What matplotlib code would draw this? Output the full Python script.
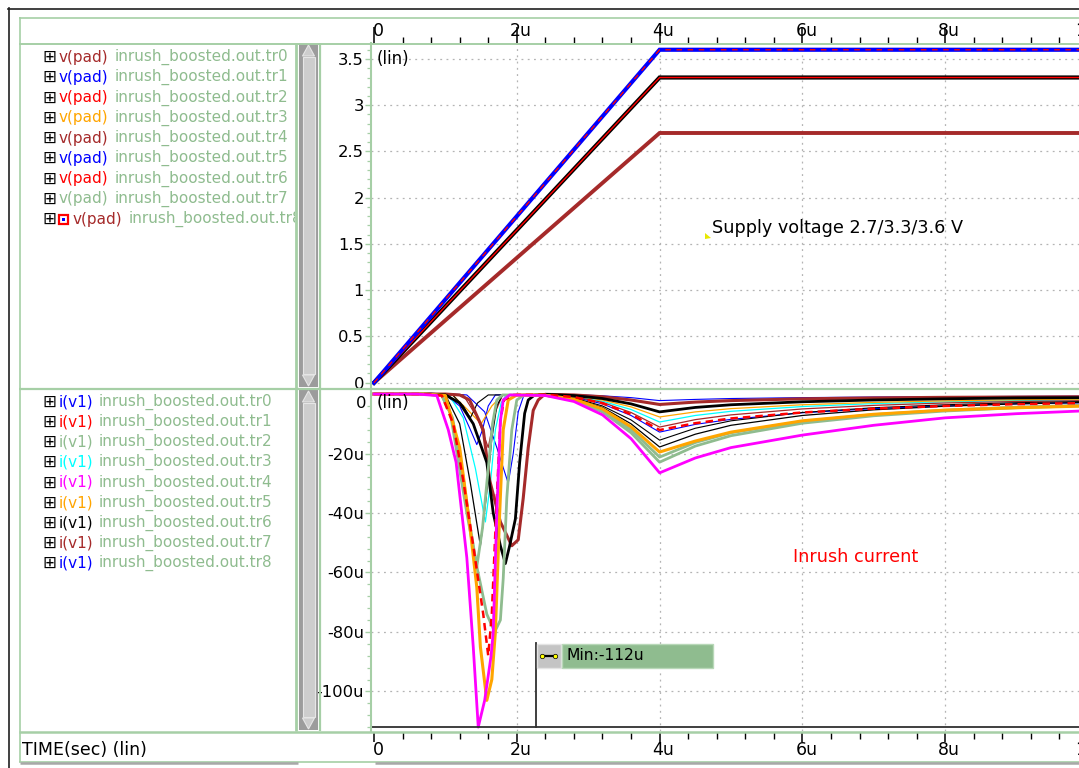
import matplotlib
matplotlib.use("Agg")
import matplotlib.pyplot as plt
from matplotlib.patches import Polygon, Rectangle

W, H = 1079, 768
BROWN = "#a52a2a"
BLUE = "#0000ff"
RED = "#ff0000"
ORANGE = "#ffa500"
GREEN = "#8fbc8f"
CYAN = "#00ffff"
MAGENTA = "#ff00ff"
FRAME = "#a6cfa6"
GRID = "#b4b4b4"
FONT = "DejaVu Sans"

# ---- legend entries ----
TRACE_NAMES = ["inrush_boosted.out.tr0", "inrush_boosted.out.tr1", "inrush_boosted.out.tr2",
               "inrush_boosted.out.tr3", "inrush_boosted.out.tr4", "inrush_boosted.out.tr5",
               "inrush_boosted.out.tr6", "inrush_boosted.out.tr7", "inrush_boosted.out.tr8"]
V_COLORS = [BROWN, BLUE, RED, ORANGE, BROWN, BLUE, RED, GREEN, BROWN]
I_COLORS = [BLUE, RED, GREEN, CYAN, MAGENTA, ORANGE, "black", BROWN, BLUE]

# ---- v(pad): ramp to supply in 4us, then flat (time in us, volts) ----
V_T = [0.0, 4.0, 10.0]
V_27 = [0.0, 2.7, 2.7]
V_33 = [0.0, 3.3, 3.3]
V_36 = [0.0, 3.6, 3.6]

# ---- i(v1): first dip around 1-2.3us (time in us, current in uA) ----
MAG_T = [0.0, 0.6, 0.88, 1.04, 1.15, 1.30, 1.39, 1.46, 1.55, 1.64, 1.67, 1.72, 1.77, 1.81, 1.9]
MAG_I = [0.0, 0.0, -0.5, -12, -23, -55, -85, -112, -103, -88, -80, -40, -9, -2, -0.3]
ORG_T = [0.0, 0.7, 1.0, 1.2, 1.35, 1.44, 1.49, 1.58, 1.65, 1.70, 1.76, 1.81, 1.88, 2.0]
ORG_I = [0.0, 0.0, -0.5, -18, -46, -65, -85, -103, -96, -80, -40, -12, -2, -0.3]
RED_T = [0.0, 0.7, 0.95, 1.11, 1.25, 1.39, 1.53, 1.60, 1.65, 1.72, 1.77, 1.82, 1.95]
RED_I = [0.0, 0.0, -0.5, -10, -29, -51, -74, -88, -74, -35, -9, -2, -0.3]
GRB_T = [0.0, 0.7, 0.95, 1.07, 1.30, 1.44, 1.58, 1.69, 1.77, 1.81, 1.86, 1.93, 2.0, 2.1]
GRB_I = [0.0, 0.0, -0.5, -6.5, -40, -58, -74, -80, -76, -62, -35, -12, -2, -0.3]
GRA_T = [0.0, 0.7, 0.95, 1.1, 1.25, 1.35, 1.44, 1.52, 1.6, 1.66, 1.72, 1.8]
GRA_I = [0.0, 0.0, -0.5, -8, -28, -45, -58, -45, -25, -10, -2, -0.3]
BLK_T = [0.0, 0.8, 1.0, 1.2, 1.39, 1.58, 1.67, 1.77, 1.84, 1.90, 1.98, 2.04, 2.11, 2.16, 2.25]
BLK_I = [0.0, 0.0, -0.3, -3, -10, -23, -40, -51, -57, -51, -42, -23, -6.5, -2, -0.3]
BRN_T = [0.0, 1.0, 1.2, 1.34, 1.53, 1.62, 1.77, 1.93, 2.02, 2.09, 2.16, 2.23, 2.30, 2.38]
BRN_I = [0.0, 0.0, -0.3, -2, -12, -29, -43, -51, -49, -35, -18, -5.5, -2, -0.3]
BK2_T = [0.0, 0.8, 1.0, 1.2, 1.35, 1.49, 1.57, 1.65, 1.72, 1.8]
BK2_I = [0.0, 0.0, -0.3, -10, -30, -51, -35, -15, -4, -0.3]
CYN_T = [0.0, 0.8, 1.05, 1.25, 1.42, 1.56, 1.63, 1.7, 1.78, 1.85]
CYN_I = [0.0, 0.0, -0.3, -8, -25, -43, -30, -12, -3, -0.3]
BLA_T = [0.0, 0.8, 1.0, 1.2, 1.35, 1.44, 1.52, 1.6, 1.7]
BLA_I = [0.0, 0.0, -0.3, -4, -12, -17, -12, -4, -0.3]
BLB_T = [0.0, 1.1, 1.3, 1.55, 1.72, 1.88, 1.95, 2.02, 2.1]
BLB_I = [0.0, 0.0, -0.3, -6, -18, -30, -20, -6, -0.3]
ORT_T = [0.0, 0.9, 1.1, 1.3, 1.5, 1.65, 1.8]
ORT_I = [0.0, 0.0, -0.3, -5, -10, -4, -0.3]
BRT_T = [0.0, 1.0, 1.25, 1.45, 1.6, 1.7, 1.8]
BRT_I = [0.0, 0.0, -0.3, -8, -18, -6, -0.3]
BK3_T = [0.0, 0.9, 1.1, 1.25, 1.35, 1.45, 1.6]
BK3_I = [0.0, 0.0, -0.3, -4, -8, -3, -0.3]

# ---- i(v1): second dip peaking at 4us, then slow decay ----
TAIL_T = [2.4, 2.8, 3.2, 3.6, 4.0, 4.5, 5.0, 6.0, 7.0, 8.0, 9.0, 10.0]
MAG_TAIL = [-0.5, -2.5, -7.0, -15.0, -26.5, -21.5, -18.0, -13.8, -10.5, -8.0, -6.6, -5.6]
GRB_TAIL = [-0.4, -2.1, -6.0, -13.0, -22.9, -17.5, -14.0, -9.8, -7.3, -5.7, -4.6, -3.9]
GRA_TAIL = [-0.4, -1.9, -5.5, -12.0, -21.2, -16.3, -13.0, -9.2, -6.9, -5.4, -4.4, -3.7]
ORG_TAIL = [-0.4, -1.7, -5.0, -11.0, -19.5, -15.8, -12.8, -9.0, -6.8, -5.4, -4.6, -4.0]
BK2_TAIL = [-0.3, -1.5, -4.5, -10.0, -17.8, -13.5, -10.5, -7.2, -5.3, -4.1, -3.3, -2.8]
BK3_TAIL = [-0.3, -1.3, -4.0, -8.7, -15.5, -11.5, -9.0, -6.2, -4.6, -3.6, -2.9, -2.5]
BLA_TAIL = [-0.2, -1.0, -3.3, -7.2, -12.8, -10.2, -8.5, -6.3, -4.9, -4.0, -3.3, -2.9]
RED_TAIL = [-0.2, -1.0, -3.1, -6.8, -12.1, -9.8, -8.2, -6.2, -4.9, -4.0, -3.4, -3.0]
BRT_TAIL = [-0.2, -0.9, -2.8, -6.2, -11.1, -8.6, -7.0, -5.0, -3.8, -3.0, -2.5, -2.2]
CYN_TAIL = [-0.2, -0.8, -2.4, -5.2, -9.4, -7.2, -5.8, -4.2, -3.2, -2.6, -2.2, -1.9]
ORT_TAIL = [-0.1, -0.6, -2.0, -4.3, -7.7, -6.0, -4.9, -3.6, -2.8, -2.3, -1.9, -1.7]
BLK_TAIL = [-0.1, -0.5, -1.5, -3.3, -6.0, -4.5, -3.6, -2.6, -2.0, -1.6, -1.3, -1.2]
BRN_TAIL = [-0.1, -0.3, -0.9, -2.0, -3.5, -2.7, -2.2, -1.6, -1.3, -1.1, -1.0, -0.9]
BLB_TAIL = [-0.1, -0.2, -0.6, -1.2, -2.2, -1.8, -1.5, -1.2, -1.0, -0.9, -0.8, -0.7]

I_MIN = -112.0
MARK_T = 2.27

X_MAJOR = [0, 2, 4, 6, 8, 10]
X_LABELS = ["0", "2u", "4u", "6u", "8u", "10u"]
V_TICKS = [0, 0.5, 1, 1.5, 2, 2.5, 3, 3.5]
V_LABELS = ["0", "0.5", "1", "1.5", "2", "2.5", "3", "3.5"]
I_TICKS = [-100, -80, -60, -40, -20]
I_LABELS = ["-100u", "-80u", "-60u", "-40u", "-20u"]

# pixel geometry of the plot area (0 us at x=374, 71.4 px per us)
X0_PX, PX_PER_US = 374.0, 71.4
XLIM = ((371 - X0_PX) / PX_PER_US, (W - X0_PX) / PX_PER_US)


def rect(x0, y0, x1, y1):
  return [x0 / W, 1 - y1 / H, (x1 - x0) / W, (y1 - y0) / H]


def style_plot(ax, yticks, ylabels, minor):
  ax.set_xlim(*XLIM)
  ax.set_xticks([2, 4, 6, 8])
  ax.set_yticks(yticks)
  ax.set_yticklabels(ylabels, fontsize=11.8, family=FONT)
  ax.set_yticks(minor, minor=True)
  ax.tick_params(axis="x", which="both", length=0, labelbottom=False)
  ax.tick_params(axis="y", which="major", direction="out", length=4.5, width=1, color=FRAME, pad=0.5)
  ax.tick_params(axis="y", which="minor", direction="out", length=3, width=0.9, color=FRAME)
  for s in ("top", "right", "bottom"):
    ax.spines[s].set_visible(False)
  ax.spines["left"].set_color(FRAME)
  ax.spines["left"].set_linewidth(1.5)
  ax.grid(True, which="major", color=GRID, linestyle=(0, (1.5, 3.5)), linewidth=0.9)
  ax.set_axisbelow(True)


fig = plt.figure(figsize=(W / 100, H / 100), dpi=100)
fig.patch.set_facecolor("white")

# ---------- voltage panel ----------
ax_v = fig.add_axes(rect(371, 43, W, 388))
ax_v.set_ylim(-0.057, 3.673)
style_plot(ax_v, V_TICKS, V_LABELS, [k / 10 for k in range(37) if k % 5])
ax_v.plot(V_T, V_27, color=BROWN, lw=2.8, solid_joinstyle="miter")
ax_v.plot(V_T, V_33, color="black", lw=3.0, solid_joinstyle="miter")
ax_v.plot(V_T, V_33, color=RED, lw=1.0)
ax_v.plot(V_T, V_36, color=BLUE, lw=3.0, solid_joinstyle="miter")
ax_v.plot(V_T, V_36, color=RED, lw=1.0, ls=(0, (4, 4)))
ax_v.text(0.03, 3.5, "(lin)", fontsize=12, family=FONT, va="center", ha="left")
ax_v.text(4.73, 1.67, "Supply voltage 2.7/3.3/3.6 V", fontsize=12.7, family=FONT, va="center", ha="left")

# ---------- current panel ----------
ax_i = fig.add_axes(rect(371, 389, W, 731))
ax_i.set_ylim(-113.3, 1.7)
style_plot(ax_i, I_TICKS, I_LABELS, [k for k in range(-112, 1, 4) if k % 20])
curves = [
  (BLA_T, BLA_I, BLA_TAIL, BLUE, 0.8, "-"),
  (BLB_T, BLB_I, BLB_TAIL, BLUE, 0.8, "-"),
  (CYN_T, CYN_I, CYN_TAIL, CYAN, 0.9, "-"),
  (ORT_T, ORT_I, ORT_TAIL, ORANGE, 0.9, "-"),
  (BRT_T, BRT_I, BRT_TAIL, BROWN, 0.9, "-"),
  (BK3_T, BK3_I, BK3_TAIL, "black", 0.8, "-"),
  (BK2_T, BK2_I, BK2_TAIL, "black", 0.9, "-"),
  (BRN_T, BRN_I, BRN_TAIL, BROWN, 2.2, "-"),
  (BLK_T, BLK_I, BLK_TAIL, "black", 2.0, "-"),
  (GRA_T, GRA_I, GRA_TAIL, GREEN, 2.0, "-"),
  (GRB_T, GRB_I, GRB_TAIL, GREEN, 2.0, "-"),
  (ORG_T, ORG_I, ORG_TAIL, ORANGE, 2.2, "-"),
  (RED_T, RED_I, RED_TAIL, RED, 1.8, (0, (3, 2))),
  (MAG_T, MAG_I, MAG_TAIL, MAGENTA, 2.0, "-"),
]
for t, i, tail, c, lw, ls in curves:
  ax_i.plot(t + TAIL_T, i + tail, color=c, lw=lw, ls=ls)
ax_i.axhline(I_MIN, color="#303030", lw=1.3)
ax_i.plot([MARK_T, MARK_T], [I_MIN, -83.7], color="#303030", lw=1.3)
ax_i.text(0.03, -3.0, "(lin)", fontsize=12, family=FONT, va="center", ha="left")
ax_i.text(5.87, -54.8, "Inrush current", fontsize=12.7, family=FONT, color=RED, va="center", ha="left")

# ---------- time rulers ----------
minor_x = [k * 0.4 for k in range(26) if k % 5]
ax_rt = fig.add_axes(rect(371, 17, W, 43))
ax_rt.set_xlim(*XLIM)
ax_rt.set_ylim(0, 26)
ax_rt.axis("off")
ax_rt.vlines(X_MAJOR, 0, 16, color="black", lw=1.1)
ax_rt.vlines(minor_x, 0, 6, color="black", lw=1.0)
for x, lab in zip(X_MAJOR, X_LABELS):
  ax_rt.text(x + 4 / PX_PER_US, 12, lab, fontsize=12.5, family=FONT, ha="center", va="center")

ax_rb = fig.add_axes(rect(371, 732, W, 762))
ax_rb.set_xlim(*XLIM)
ax_rb.set_ylim(30, 0)
ax_rb.axis("off")
ax_rb.vlines(X_MAJOR, 0, 10, color="black", lw=1.1)
ax_rb.vlines(minor_x, 0, 7, color="black", lw=1.0)
for x, lab in zip(X_MAJOR, X_LABELS):
  ax_rb.text(x + 4 / PX_PER_US, 18, lab, fontsize=12.5, family=FONT, ha="center", va="center")

# ---------- legend lists ----------
ax_leg = fig.add_axes(rect(20, 17, 295, 731))
ax_leg.set_xlim(20, 295)
ax_leg.set_ylim(731, 17)
ax_leg.axis("off")
for k, (name, c) in enumerate(zip(TRACE_NAMES, V_COLORS)):
  y = 57 + 20.25 * k
  ax_leg.text(49.5, y, "\u229e", fontsize=12, family=FONT, ha="center", va="center")
  x_sig = 59
  if k == 8:
    ax_leg.add_patch(Rectangle((59.5, y - 4.5), 9, 9, facecolor="white", edgecolor=RED, lw=1.6))
    ax_leg.add_patch(Rectangle((62.5, y - 1.5), 3, 3, facecolor=BLUE, edgecolor="none"))
    x_sig = 73
  ax_leg.text(x_sig, y, "v(pad)", fontsize=11, family=FONT, color=c, ha="left", va="center", clip_on=True)
  ax_leg.text(x_sig + 56, y, name, fontsize=11, family=FONT, color=GREEN, ha="left", va="center", clip_on=True)
for k, (name, c) in enumerate(zip(TRACE_NAMES, I_COLORS)):
  y = 402 + 20.1 * k
  ax_leg.text(49.5, y, "\u229e", fontsize=12, family=FONT, ha="center", va="center")
  ax_leg.text(59, y, "i(v1)", fontsize=11, family=FONT, color=c, ha="left", va="center")
  ax_leg.text(99, y, name, fontsize=11, family=FONT, color=GREEN, ha="left", va="center", clip_on=True)

# ---------- window chrome (pixel coordinates) ----------
ax_ov = fig.add_axes([0, 0, 1, 1])
ax_ov.set_xlim(0, W)
ax_ov.set_ylim(H, 0)
ax_ov.axis("off")
ax_ov.set_zorder(5)

ax_ov.plot([8.5, 8.5], [8, H], color="#202020", lw=1.2)
ax_ov.plot([8, W], [8.5, 8.5], color="#202020", lw=1.2)
for xs, ys, lw in [([19.5, 19.5], [17, 762], 1.2), ([19, W], [17.5, 17.5], 1.2),
                   ([19, W], [43.5, 43.5], 1.4), ([19, W], [388.5, 388.5], 1.6),
                   ([19, W], [731.5, 731.5], 1.8), ([19, W], [762, 762], 1.2),
                   ([296, 296], [43, 731], 2.0), ([319.5, 319.5], [43, 731], 1.6)]:
  ax_ov.plot(xs, ys, color=FRAME, lw=lw, solid_capstyle="butt")
ax_ov.plot([20, 298], [762.5, 762.5], color="#a8a8a8", lw=1.8, solid_capstyle="butt")
ax_ov.plot([375, W], [762.5, 762.5], color="#a8a8a8", lw=1.8, solid_capstyle="butt")

# scrollbars
for top, bot in [(44, 387), (390, 730)]:
  ax_ov.add_patch(Rectangle((299, top), 19, bot - top, facecolor="#9c9c9c", edgecolor="none"))
  ax_ov.add_patch(Rectangle((302.5, top + 13), 12, bot - top - 26, facecolor="#cdcdcd",
                            edgecolor="#e6e6e6", lw=0.8))
  ax_ov.add_patch(Polygon([(302.5, top + 12), (308.5, top + 1), (314.5, top + 12)],
                          facecolor="#cdcdcd", edgecolor="#e6e6e6", lw=0.8))
  ax_ov.add_patch(Polygon([(302.5, bot - 12), (308.5, bot - 1), (314.5, bot - 12)],
                          facecolor="#cdcdcd", edgecolor="#e6e6e6", lw=0.8))

# bottom axis caption
ax_ov.text(22, 750, "TIME(sec) (lin)", fontsize=12.5, family=FONT, ha="left", va="center")
# zero label of the current axis sits a little below its grid line
ax_ov.text(366, 403, "0", fontsize=11.8, family=FONT, ha="right", va="center")

# supply label anchor
ax_ov.add_patch(Polygon([(705, 233), (711, 238), (705, 239)], facecolor="#e8e800", edgecolor="none"))

# min measurement box
ax_ov.add_patch(Rectangle((537, 643.5), 24, 24, facecolor="#c4c4c4", edgecolor="#e4e4e4", lw=1))
ax_ov.add_patch(Rectangle((562, 643.5), 151, 24, facecolor=GREEN, edgecolor="#b8d8b8", lw=1))
ax_ov.plot([542, 555], [656, 656], color="black", lw=1.6)
ax_ov.plot([542, 555], [656, 656], ls="none", marker="o", ms=3.2, mfc="yellow", mec="black", mew=0.5)
ax_ov.text(566, 656, "Min:-112u", fontsize=11.2, family=FONT, ha="left", va="center")

fig.savefig("out.png", dpi=100)
